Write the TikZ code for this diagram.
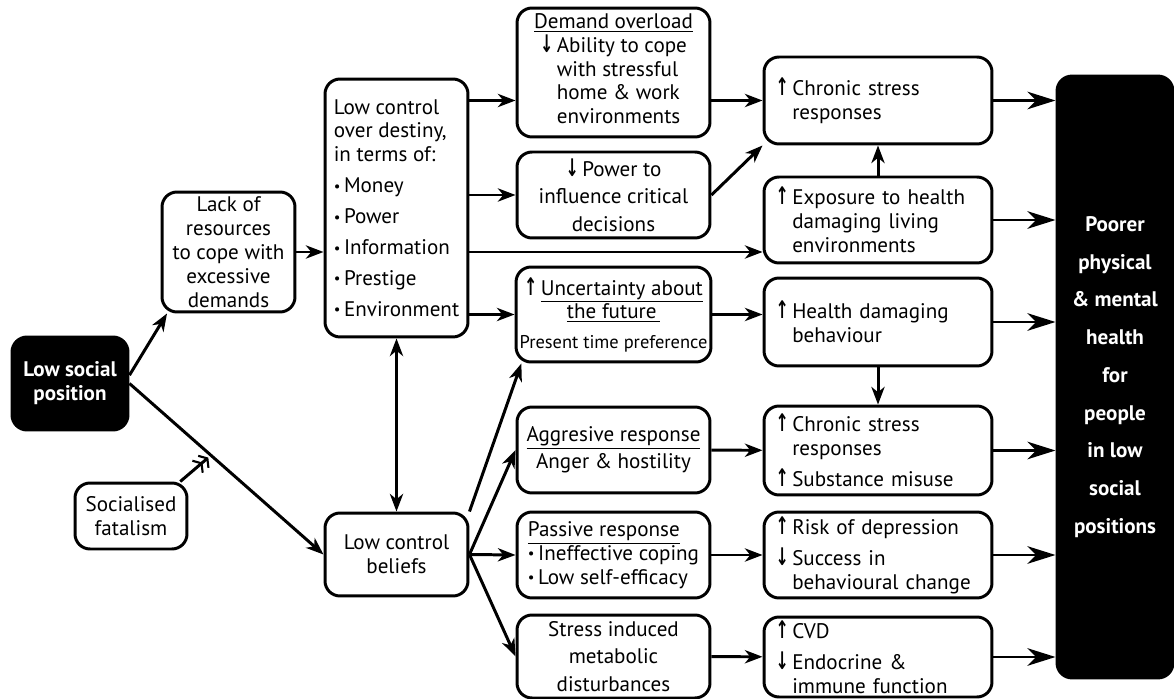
\documentclass[tikz,border=0pt]{standalone}
\usepackage{fontspec}
\setmainfont{PT Sans}
\newfontfamily\arrowfont{DejaVu Sans}
\usetikzlibrary{arrows.meta,calc}
\newcommand{\arrup}{\scalebox{0.75}[1.15]{\arrowfont\bfseries ↑}\,}
\newcommand{\arrdn}{\scalebox{0.75}[1.15]{\arrowfont\bfseries ↓}\,}
\newcommand{\bul}{\raisebox{0.15ex}{\scalebox{0.7}{\textbullet}}\,}
\tikzset{
    -{Stealth[length=10pt,width=7.5pt,inset=3pt]},
    box/.style ={draw, rounded corners=0.3cm, align=center, inner sep=2pt, font=\fontsize{12}{13.6}\selectfont},
    dark/.style ={box, fill=black, text=white, font=\bfseries\fontsize{12}{13.6}\selectfont},
    mid/.style ={box, minimum width=3.86cm},
    right/.style ={box, minimum width=4.56cm, text width=4.1cm, inner xsep=0.23cm, align=left},
    big/.style = {-{Stealth[length=16pt,width=10pt,inset=5pt]}},
    bidirected/.style={{Stealth[length=10pt,width=7.5pt,inset=3pt]}-{Stealth[length=10pt,width=7.5pt,inset=3pt]}},
    implied/.style={-{Straight Barb[length=3pt,width=9pt,line width=1.2pt] Straight Barb[length=3pt,width=9pt,line width=1.2pt]}, shorten >=2pt}
}
\begin{document}
\begin{tikzpicture}[x=0.02cm,y=-0.02cm,line width=1.7pt]
\useasboundingbox (0,0) rectangle (1174,699);
 \node[dark, minimum width=2.32cm, minimum height=1.86cm] (lsp) at (70,383.5) {Low social\\position};
    \node[box, minimum width=2.66cm, minimum height=2.4cm] (lack) at (228.5,252) {Lack of\\resources\\to cope with\\excessive\\demands};
    \node[box, align=left, minimum width=2.86cm, minimum height=5.16cm] (dest) at (396.5,208) {Low control\\over destiny,\\in terms of:\\[4pt]\bul Money\\[4pt]\bul Power\\[4pt]\bul Information\\[4pt]\bul Prestige\\[4pt]\bul Environment};
    \node[box, minimum width=2.24cm, minimum height=1.32cm] (fat) at (131,516) {Socialised\\fatalism};
    \node[box, minimum width=2.86cm, minimum height=1.66cm] (bel) at (396.5,554.5) {Low control\\beliefs};
    % middle column
    \node[mid, minimum height=2.58cm] (dem) at (613.5,72.5) {\underline{Demand overload}\\\begin{tabular}{@{}l@{}l@{}}\arrdn&Ability to cope\\&with stressful\\&home \& work\\&environments\end{tabular}};
    \node[mid, minimum height=1.72cm] (pow) at (613.5,195) {\arrdn Power to\\[2pt]influence critical\\[2pt]decisions};
    \node[mid, minimum height=1.9cm] (unc) at (613.5,314.5) {\arrup\underline{Uncertainty about}\\\underline{the future\,}\\[3pt]{\fontsize{10.5}{12}\selectfont Present time preference}};
    \node[mid, minimum height=1.72cm] (agg) at (613.5,450) {\underline{Aggresive response}\\[2pt]Anger \& hostility};
    \node[mid, align=left, minimum height=1.72cm] (pas) at (613.5,555) {\underline{Passive response}\\\bul Ineffective coping\\\bul Low self-efficacy};
    \node[mid, minimum height=1.66cm] (sid) at (613.5,656.5) {Stress induced\\[2pt]metabolic\\[2pt]disturbances};
    % right column
    \node[right, minimum height=1.74cm] (chA) at (878,100.5) {\arrup Chronic stress\\\phantom{\arrup}responses};
    \node[right, minimum height=1.72cm] (exp) at (878,220) {\arrup Exposure to health\\\phantom{\arrup}damaging living\\\phantom{\arrup}environments};
    \node[right, minimum height=1.76cm] (beh) at (878,322) {\arrup Health damaging\\\phantom{\arrup}behaviour};
    \node[right, minimum height=1.78cm] (chB) at (878,450.5) {\arrup Chronic stress\\\phantom{\arrup}responses\\[4pt]\arrup Substance misuse};
    \node[right, minimum height=1.72cm] (dep) at (878,555) {\arrup Risk of depression\\[4pt]\arrdn Success in\\\phantom{\arrdn}behavioural change};
    \node[right, minimum height=1.6cm] (cvd) at (878,657) {\arrup CVD\\[4pt]\arrdn Endocrine \&\\\phantom{\arrdn}immune function};
    \node[dark, minimum width=2.32cm, minimum height=12.04cm, font=\bfseries\fontsize{12}{21.5}\selectfont] (poor) at (1115,377) {Poorer\\physical\\\& mental\\health\\for\\people\\in low\\social\\positions};

    \path (lsp.8) edge (lack.-135);
    \path (lsp.east) edge (bel.west);
    \path (lsp.east) -- (bel.west) coordinate[pos=0.42] (fm);
    \path (fat.35) edge[implied] (fm);
    \path (lack) edge (dest.west |- lack);
    \path (dest.south) edge[bidirected] (bel.north);
    \path (dest.east |- chA) edge (dem.west |- chA);
    \path (dest.east |- pow) edge (pow);
    \path (dest.east |- lack) edge (exp.west |- lack);
    \path (dest.east |- unc) edge (unc);
    \path (bel.north east) edge (unc.208);
    \path (bel.east) edge (agg.west);
    \path (bel.east) edge (pas.west);
    \path (bel.east) edge (sid.west);
    \path (dem.east |- chA) edge (chA);
    \path (pow.east) edge (chA.south west);
    \path (exp) edge (chA);
    \path (unc) edge (beh.west |- unc);
    \path (beh) edge (chB);
    \path (agg) edge (chB);
    \path (pas) edge (dep);
    \path (sid) edge (cvd);
    \foreach \n in {chA,exp,beh,chB,dep,cvd}
        \path (\n) edge[big] (poor.west |- \n);
\end{tikzpicture}
\end{document}
